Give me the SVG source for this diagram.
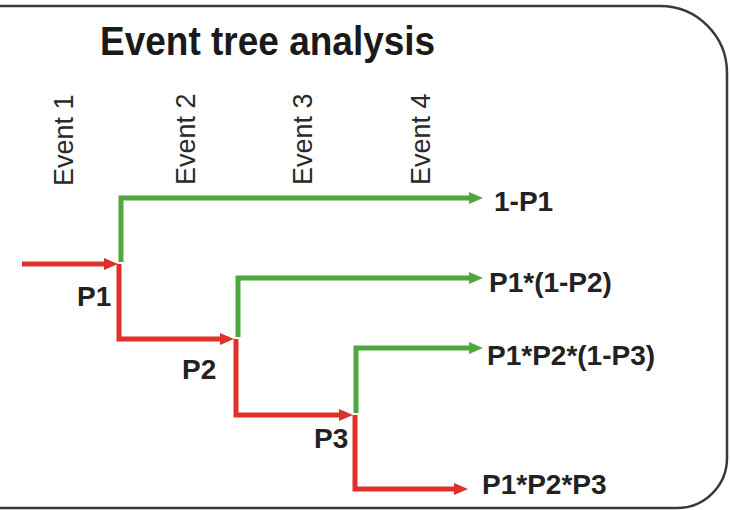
<svg xmlns="http://www.w3.org/2000/svg" width="730" height="510" viewBox="0 0 730 510">
<style>
.frame{fill:#fff;stroke:#3a3a3a;stroke-width:2.5}
.title{font-family:"Liberation Sans",Arial,sans-serif;font-weight:bold;font-size:37px;fill:#1a1a1a}
.ev{font-family:"Liberation Sans",Arial,sans-serif;font-size:27px;fill:#2a2a2a}
.lbl{font-family:"Liberation Sans",Arial,sans-serif;font-weight:bold;font-size:28px;fill:#222}
.g{fill:none;stroke:#4fa83d;stroke-width:5}
.r{fill:none;stroke:#e0302a;stroke-width:5}
</style>
<defs>
<marker id="ag" viewBox="0 0 14 12" refX="1" refY="6" markerWidth="14" markerHeight="12" markerUnits="userSpaceOnUse" orient="auto"><path d="M0,0 L14,6 L0,12 z" fill="#4fa83d"/></marker>
<marker id="ar" viewBox="0 0 14 12" refX="1" refY="6" markerWidth="14" markerHeight="12" markerUnits="userSpaceOnUse" orient="auto"><path d="M0,0 L14,6 L0,12 z" fill="#e0302a"/></marker>
</defs>
<path class="frame" d="M-10,6 H660 A67,67 0 0 1 727,73 V458 A50,50 0 0 1 677,508 H-10 Z"/>
<text class="title" transform="translate(100,55) scale(1,1.08)">Event tree analysis</text>
<g id="events">
<text class="ev" transform="translate(73,186) rotate(-90)">Event 1</text>
<text class="ev" transform="translate(195,185) rotate(-90)">Event 2</text>
<text class="ev" transform="translate(312,185) rotate(-90)">Event 3</text>
<text class="ev" transform="translate(430,185) rotate(-90)">Event 4</text>
</g>
<g id="connectors">
<path class="g" d="M121,262 V198 H470" marker-end="url(#ag)"/>
<path class="g" d="M238,337 V278 H470" marker-end="url(#ag)"/>
<path class="g" d="M356,413 V348 H470" marker-end="url(#ag)"/>
<path class="r" d="M22,264 H105" marker-end="url(#ar)"/>
<path class="r" d="M119,264 V339 H221" marker-end="url(#ar)"/>
<path class="r" d="M236,339 V415 H340" marker-end="url(#ar)"/>
<path class="r" d="M355,415 V489 H455" marker-end="url(#ar)"/>
</g>
<g id="n-p1"><text class="lbl" x="77" y="306">P1</text></g>
<g id="n-p2"><text class="lbl" x="182" y="379">P2</text></g>
<g id="n-p3"><text class="lbl" x="314" y="448">P3</text></g>
<g id="o1"><text class="lbl" x="494" y="211">1-P1</text></g>
<g id="o2"><text class="lbl" x="489" y="292">P1*(1-P2)</text></g>
<g id="o3"><text class="lbl" x="487" y="365">P1*P2*(1-P3)</text></g>
<g id="o4"><text class="lbl" x="482" y="494">P1*P2*P3</text></g>
</svg>
